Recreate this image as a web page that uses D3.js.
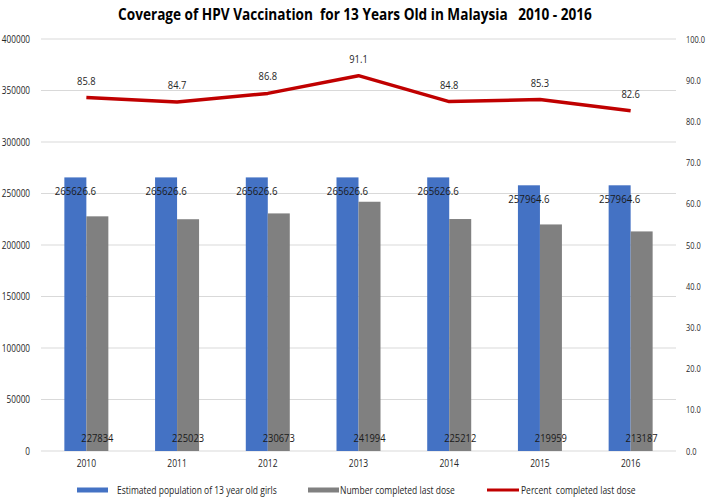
<!DOCTYPE html>
<html>
<head>
<meta charset="utf-8">
<script src="https://cdn.jsdelivr.net/npm/d3@7"></script>
<style>
  html, body { margin: 0; padding: 0; background: #ffffff; }
  svg { display: block; }
  text { font-family: "Open Sans", sans-serif; }
</style>
</head>
<body>
<svg id="chart" width="709" height="499"></svg>
<script>
const titleText = "Coverage of HPV Vaccination  for 13 Years Old in Malaysia   2010 - 2016";
const years = ["2010", "2011", "2012", "2013", "2014", "2015", "2016"];
const population = [265626.6, 265626.6, 265626.6, 265626.6, 265626.6, 257964.6, 257964.6];
const completed = [227834, 225023, 230673, 241994, 225212, 219959, 213187];
const percent = [85.8, 84.7, 86.8, 91.1, 84.8, 85.3, 82.6];
const leftTicks = [0, 50000, 100000, 150000, 200000, 250000, 300000, 350000, 400000];
const rightTicks = [0, 10, 20, 30, 40, 50, 60, 70, 80, 90, 100];
const seriesNames = ["Estimated population of 13 year old girls", "Number completed last dose", "Percent  completed last dose"];

const W = 709, H = 499;
const margin = { left: 41, right: 33, top: 39, bottom: 48 };
const colors = { pop: "#4472C4", done: "#808080", pct: "#C00000" };

const svg = d3.select("#chart");

// narrow the Open Sans glyphs to approximate a condensed face
function condense(sel, f) {
  sel.each(function () {
    const w = this.getComputedTextLength();
    if (w > 0) {
      this.setAttribute("textLength", (w * f).toFixed(2));
      this.setAttribute("lengthAdjust", "spacingAndGlyphs");
    }
  });
}

const x = d3.scaleBand().domain(years)
  .range([margin.left, W - margin.right])
  .paddingInner(0.515).paddingOuter(0.2575);
const xs = d3.scaleBand().domain(["pop", "done"]).range([0, x.bandwidth()]);
const yL = d3.scaleLinear().domain([0, 400000]).range([H - margin.bottom, margin.top]);
const yR = d3.scaleLinear().domain([0, 100]).range([H - margin.bottom, margin.top]);

// title
svg.append("text")
  .attr("x", 355).attr("y", 20)
  .attr("text-anchor", "middle")
  .attr("font-size", 16).attr("font-weight", "bold")
  .attr("fill", "#000")
  .attr("xml:space", "preserve")
  .text(titleText)
  .call(condense, 0.85);

// gridlines
svg.append("g").selectAll("line").data(leftTicks).join("line")
  .attr("x1", margin.left).attr("x2", W - margin.right)
  .attr("y1", d => yL(d)).attr("y2", d => yL(d))
  .attr("stroke", "#d9d9d9").attr("stroke-width", 1);

// left axis
const axL = svg.append("g").attr("transform", `translate(${margin.left - 4},0)`)
  .call(d3.axisLeft(yL).tickValues(leftTicks).tickFormat(d3.format("d")).tickSize(0).tickPadding(7));
axL.select(".domain").remove();
axL.selectAll("text").attr("font-size", 10).attr("fill", "#262626").call(condense, 0.82);

// right axis
const axR = svg.append("g").attr("transform", `translate(${W - margin.right + 2},0)`)
  .call(d3.axisRight(yR).tickValues(rightTicks).tickFormat(d3.format(".1f")).tickSize(0).tickPadding(8));
axR.select(".domain").remove();
axR.selectAll("text").attr("font-size", 9.5).attr("fill", "#262626").call(condense, 0.78);

// bottom axis
const axB = svg.append("g").attr("transform", `translate(0,${H - margin.bottom})`)
  .call(d3.axisBottom(x).tickSize(0).tickPadding(9));
axB.select(".domain").remove();
axB.selectAll("text").attr("font-size", 10).attr("fill", "#262626").call(condense, 0.85);

// bars
const rows = years.map((yr, i) => ({ yr, pop: population[i], done: completed[i], pct: percent[i] }));
const groups = svg.append("g").selectAll("g").data(rows).join("g")
  .attr("transform", d => `translate(${x(d.yr)},0)`);

groups.append("rect")
  .attr("x", xs("pop")).attr("width", xs.bandwidth())
  .attr("y", d => yL(d.pop)).attr("height", d => yL(0) - yL(d.pop))
  .attr("fill", colors.pop);
groups.append("rect")
  .attr("x", xs("done")).attr("width", xs.bandwidth())
  .attr("y", d => yL(d.done)).attr("height", d => yL(0) - yL(d.done))
  .attr("fill", colors.done);

// bar labels
groups.append("text")
  .attr("x", xs("pop") + xs.bandwidth() / 2)
  .attr("y", d => yL(d.pop) + 18)
  .attr("text-anchor", "middle").attr("font-size", 11).attr("fill", "#1a1a1a")
  .text(d => d3.format(".1f")(d.pop))
  .call(condense, 0.88);
groups.append("text")
  .attr("x", xs("done") + xs.bandwidth() / 2)
  .attr("y", yL(0) - 9)
  .attr("text-anchor", "middle").attr("font-size", 11).attr("fill", "#1a1a1a")
  .text(d => d.done)
  .call(condense, 0.85);

// line
const line = d3.line()
  .x(d => x(d.yr) + x.bandwidth() / 2)
  .y(d => yR(d.pct));
svg.append("path").datum(rows)
  .attr("d", line).attr("fill", "none")
  .attr("stroke", colors.pct).attr("stroke-width", 3.5)
  .attr("stroke-linejoin", "round");

svg.append("g").selectAll("text").data(rows).join("text")
  .attr("x", d => x(d.yr) + x.bandwidth() / 2)
  .attr("y", d => yR(d.pct) - 13)
  .attr("text-anchor", "middle").attr("font-size", 11).attr("fill", "#262626")
  .text(d => d3.format(".1f")(d.pct))
  .call(condense, 0.85);

// legend
const legendItems = [
  { name: seriesNames[0], type: "rect", color: colors.pop, x0: 77, tx: 40 },
  { name: seriesNames[1], type: "rect", color: colors.done, x0: 308, tx: 32 },
  { name: seriesNames[2], type: "line", color: colors.pct, x0: 487, tx: 34 }
];
const ly = 490;
const lg = svg.append("g").selectAll("g").data(legendItems).join("g")
  .attr("transform", d => `translate(${d.x0},${ly})`);
lg.filter(d => d.type === "rect").append("rect")
  .attr("x", 0).attr("y", -2.5).attr("width", 31).attr("height", 5)
  .attr("fill", d => d.color);
lg.filter(d => d.type === "line").append("line")
  .attr("x1", 0).attr("x2", 32).attr("y1", 0).attr("y2", 0)
  .attr("stroke", d => d.color).attr("stroke-width", 3);
lg.append("text")
  .attr("x", d => d.tx)
  .attr("y", 3.5)
  .attr("font-size", 10).attr("fill", "#262626")
  .attr("xml:space", "preserve")
  .text(d => d.name)
  .call(condense, 0.85);
</script>
</body>
</html>
